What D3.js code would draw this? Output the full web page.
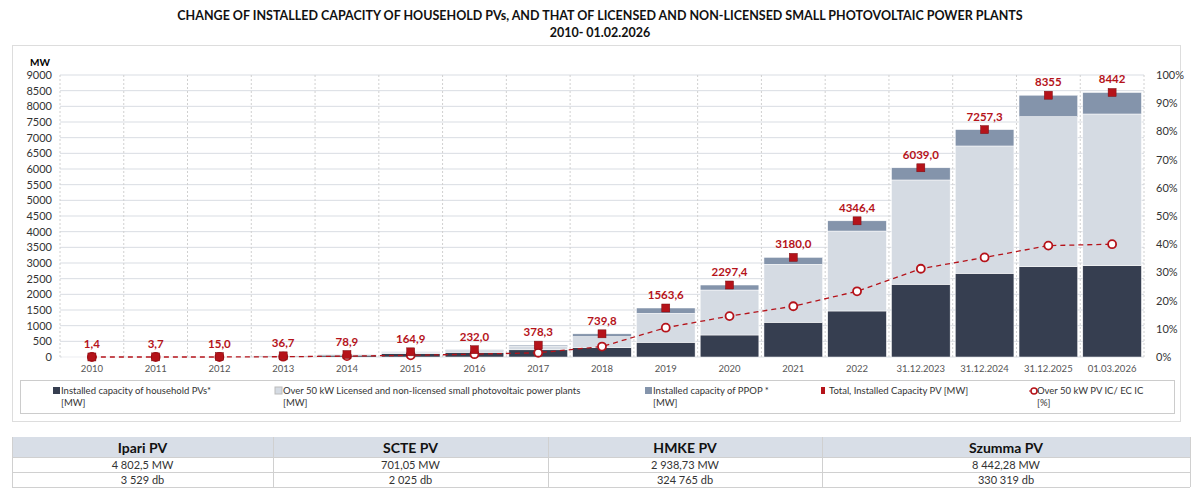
<!DOCTYPE html>
<html><head><meta charset="utf-8">
<script src="https://cdn.jsdelivr.net/npm/d3@7"></script>
<style>
body{margin:0;background:#fff;font-family:Lato,"Open Sans",sans-serif;}
</style></head><body>
<svg id="c" width="1200" height="497"></svg>
<script>
// Chart data
var categories = ["2010","2011","2012","2013","2014","2015","2016","2017","2018","2019","2020","2021","2022","31.12.2023","31.12.2024","31.12.2025","01.03.2026"];
var household = [1.2, 3, 13, 30, 60, 110, 150, 230, 300, 469, 702, 1107, 1468, 2320, 2670, 2882, 2914];
var licensed  = [0.1, 0.5, 1.5, 5, 12, 40, 55, 110, 350, 926, 1436, 1853, 2552, 3330, 4065, 4788, 4842];
var totals    = [1.4, 3.7, 15.0, 36.7, 78.9, 164.9, 232.0, 378.3, 739.8, 1563.6, 2297.4, 3180.0, 4346.4, 6039.0, 7257.3, 8355, 8442];
var totalLabels = ["1,4","3,7","15,0","36,7","78,9","164,9","232,0","378,3","739,8","1563,6","2297,4","3180,0","4346,4","6039,0","7257,3","8355","8442"];
var pctShare  = [0, 0, 0, 0.1, 0.3, 0.6, 1.0, 1.5, 3.7, 10.4, 14.5, 18.0, 23.3, 31.3, 35.3, 39.5, 40.0];
var yTicks = d3.range(0, 9001, 500);
var pTicks = d3.range(0, 101, 10);
var legendItems = [
  {label: "Installed capacity of household PVs*", sub: "[MW]", type: "dark"},
  {label: "Over 50 kW Licensed and non-licensed small photovoltaic power plants", sub: "[MW]", type: "light"},
  {label: "Installed capacity of PPOP *", sub: "[MW]", type: "mid"},
  {label: "Total, Installed Capacity  PV [MW]", sub: "", type: "total"},
  {label: "Over 50 kW PV IC/ EC IC", sub: "[%]", type: "pct"}
];
var tableHead = ["Ipari PV", "SCTE PV", "HMKE PV", "Szumma PV"];
var tableRow1 = ["4 802,5 MW", "701,05 MW", "2 938,73 MW", "8 442,28 MW"];
var tableRow2 = ["3 529 db", "2 025 db", "324 765 db", "330 319 db"];

var colors = {dark: "#363e50", light: "#d5dbe3", mid: "#8494ab", red: "#b5131a"};
var svg = d3.select("#c");

// Title
svg.append("text").attr("x", 600).attr("y", 20).attr("text-anchor", "middle")
  .attr("font-size", 12.5).attr("font-weight", "bold").attr("fill", "#111")
  .text("CHANGE OF INSTALLED CAPACITY OF HOUSEHOLD PVs, AND THAT OF LICENSED AND NON-LICENSED SMALL PHOTOVOLTAIC POWER PLANTS");
svg.append("text").attr("x", 600).attr("y", 37).attr("text-anchor", "middle")
  .attr("font-size", 12.5).attr("font-weight", "bold").attr("fill", "#111")
  .text("2010- 01.02.2026");

// Frame
svg.append("rect").attr("x", 12.5).attr("y", 45.5).attr("width", 1168).attr("height", 376)
  .attr("fill", "none").attr("stroke", "#ddd");

var plotL = 60, plotR = 1144, plotT = 75, plotB = 357;
var x = d3.scaleBand().domain(categories).range([plotL, plotR]).paddingInner(0.08).paddingOuter(0.04);
var y = d3.scaleLinear().domain([0, 9000]).range([plotB, plotT]);
var yp = d3.scaleLinear().domain([0, 100]).range([plotB, plotT]);

// Grid
var g = svg.append("g");
g.selectAll(".hg").data(yTicks).enter().append("line")
  .attr("x1", plotL).attr("x2", plotR).attr("y1", function (d) { return y(d); }).attr("y2", function (d) { return y(d); })
  .attr("stroke", "#d9dde3").attr("stroke-width", 1);
g.selectAll(".vg").data(categories.concat(["end"])).enter().append("line")
  .attr("x1", function (d, i) { return i < categories.length ? x(d) - x.step() * 0.04 : plotR; })
  .attr("x2", function (d, i) { return i < categories.length ? x(d) - x.step() * 0.04 : plotR; })
  .attr("y1", plotT).attr("y2", plotB)
  .attr("stroke", "#d0d0d0").attr("stroke-dasharray", "2,2");

// Axes
var yAxis = d3.axisLeft(y).tickValues(yTicks).tickSize(0).tickPadding(8).tickFormat(d3.format("d"));
var ya = svg.append("g").attr("transform", "translate(" + plotL + ",0)").call(yAxis);
var pAxis = d3.axisRight(yp).tickValues(pTicks).tickSize(0).tickPadding(12).tickFormat(function (d) { return d + "%"; });
var pa = svg.append("g").attr("transform", "translate(" + plotR + ",0)").call(pAxis);
var xAxis = d3.axisBottom(x).tickSize(0).tickPadding(8);
var xa = svg.append("g").attr("transform", "translate(0," + plotB + ")").call(xAxis);
[ya, pa, xa].forEach(function (a) {
  a.select(".domain").remove();
  a.selectAll("text").attr("font-family", "Lato,sans-serif").attr("fill", "#333").attr("font-size", 11);
});
xa.selectAll("text").attr("font-size", 9.5).attr("fill", "#555");
svg.append("text").attr("x", 30).attr("y", 66).attr("font-size", 10).attr("font-weight", "bold").text("MW");

// Stacked bars
var bars = svg.append("g");
categories.forEach(function (c, i) {
  var h = household[i], l = licensed[i], t = totals[i];
  var segs = [[0, h, colors.dark], [h, h + l, colors.light], [h + l, t, colors.mid]];
  segs.forEach(function (s) {
    bars.append("rect").attr("x", x(c)).attr("width", x.bandwidth())
      .attr("y", y(s[1])).attr("height", Math.max(0, y(s[0]) - y(s[1])))
      .attr("fill", s[2]).attr("stroke", "#fff").attr("stroke-width", 0.5);
  });
});

// Percent line
var cx = function (d, i) { return x(categories[i]) + x.bandwidth() / 2; };
svg.append("path").datum(pctShare)
  .attr("d", d3.line().x(cx).y(function (d) { return yp(d); }))
  .attr("fill", "none").attr("stroke", colors.red).attr("stroke-width", 1.3).attr("stroke-dasharray", "5,4");
svg.selectAll(".pc").data(pctShare).enter().append("circle")
  .attr("cx", cx).attr("cy", function (d) { return yp(d); }).attr("r", 4)
  .attr("fill", "#fff").attr("stroke", colors.red).attr("stroke-width", 1.8);

// Total markers and labels
svg.selectAll(".tm").data(totals).enter().append("rect")
  .attr("x", function (d, i) { return cx(d, i) - 4; }).attr("y", function (d) { return y(d) - 4; })
  .attr("width", 8).attr("height", 8).attr("fill", colors.red).attr("stroke", "#7a0c10").attr("stroke-width", 0.5);
svg.selectAll(".tl").data(totals).enter().append("text")
  .attr("x", cx).attr("y", function (d) { return y(d) - 9; }).attr("text-anchor", "middle")
  .attr("font-size", 11.5).attr("font-weight", "bold").attr("fill", colors.red)
  .text(function (d, i) { return totalLabels[i]; });

// Legend
svg.append("rect").attr("x", 20.5).attr("y", 380.5).attr("width", 1154).attr("height", 33)
  .attr("fill", "#fff").attr("stroke", "#ccc");
var lx = [60, 282, 652, 828, 1036];
legendItems.forEach(function (it, i) {
  var gx = lx[i], gy = 393;
  if (it.type === "pct") {
    svg.append("line").attr("x1", gx - 7).attr("x2", gx + 3).attr("y1", gy - 2).attr("y2", gy - 2).attr("stroke", colors.red);
    svg.append("circle").attr("cx", gx - 2).attr("cy", gy - 2).attr("r", 3).attr("fill", "#fff").attr("stroke", colors.red).attr("stroke-width", 1.5);
  } else {
    var f = it.type === "total" ? colors.red : colors[it.type];
    svg.append("rect").attr("x", gx - 7).attr("y", gy - 6).attr("width", it.type === "total" ? 4 : 7).attr("height", 7)
      .attr("fill", f).attr("stroke", it.type === "light" ? "#bbb" : "none");
  }
  svg.append("text").attr("x", gx + 1).attr("y", gy + 1).attr("font-size", 9.5).attr("fill", "#333").text(it.label);
  if (it.sub) svg.append("text").attr("x", gx + 1).attr("y", gy + 13).attr("font-size", 9.5).attr("fill", "#333").text(it.sub);
});

// Table
var colEdges = [12, 273, 548, 822, 1190];
svg.append("rect").attr("x", 12).attr("y", 437).attr("width", 1178).attr("height", 20).attr("fill", "#d8dee7");
[457, 472, 487].forEach(function (ly) {
  svg.append("line").attr("x1", 12).attr("x2", 1190).attr("y1", ly + 0.5).attr("y2", ly + 0.5).attr("stroke", "#d0d0d0");
});
colEdges.forEach(function (ex) {
  svg.append("line").attr("x1", ex + 0.5).attr("x2", ex + 0.5).attr("y1", 437).attr("y2", 487).attr("stroke", "#d0d0d0");
});
tableHead.forEach(function (t, i) {
  var mx = (colEdges[i] + colEdges[i + 1]) / 2;
  svg.append("text").attr("x", mx).attr("y", 453).attr("text-anchor", "middle").attr("font-size", 14).attr("font-weight", "bold").attr("fill", "#111").text(t);
  svg.append("text").attr("x", mx).attr("y", 469).attr("text-anchor", "middle").attr("font-size", 11).attr("fill", "#333").text(tableRow1[i]);
  svg.append("text").attr("x", mx).attr("y", 484).attr("text-anchor", "middle").attr("font-size", 11).attr("fill", "#333").text(tableRow2[i]);
});
</script>
</body></html>
